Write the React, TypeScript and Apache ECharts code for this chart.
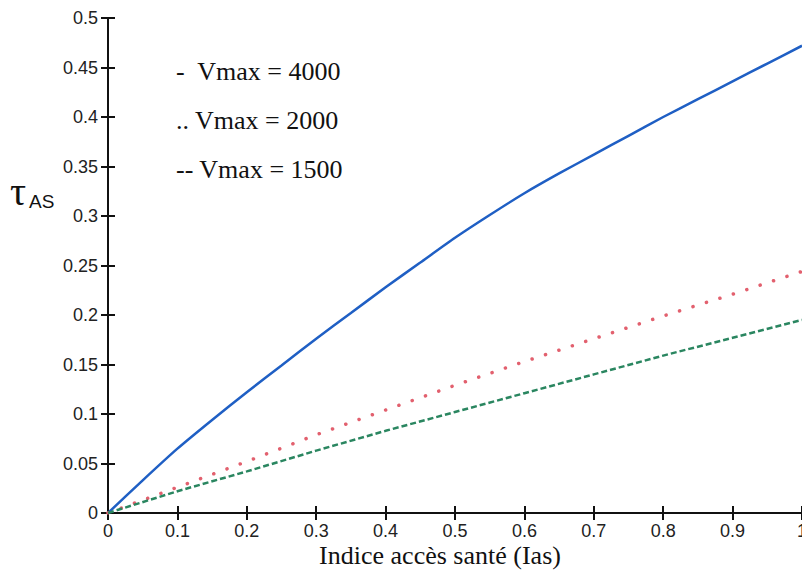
import React, { useEffect, useRef } from "react";
import * as echarts from "echarts";

const xValues = [0, 0.05, 0.1, 0.15, 0.2, 0.25, 0.3, 0.35, 0.4, 0.45, 0.5, 0.55, 0.6, 0.65, 0.7, 0.75, 0.8, 0.85, 0.9, 0.95, 1];
const vmax4000 = [0, 0.033, 0.065, 0.094, 0.122, 0.149, 0.176, 0.202, 0.228, 0.253, 0.278, 0.301, 0.323, 0.343, 0.362, 0.381, 0.4, 0.418, 0.436, 0.454, 0.472];
const xCoarse = [0, 0.1, 0.2, 0.3, 0.4, 0.5, 0.6, 0.7, 0.8, 0.9, 1];
const vmax2000 = [0, 0.026, 0.052, 0.079, 0.104, 0.129, 0.153, 0.176, 0.199, 0.221, 0.244];
const vmax1500 = [0, 0.022, 0.042, 0.063, 0.083, 0.102, 0.121, 0.14, 0.159, 0.177, 0.195];
const legendLabels = ["-  Vmax = 4000", ".. Vmax = 2000", "-- Vmax = 1500"];
const xTitle = "Indice accès santé (Ias)";

const SANS = "'Liberation Sans', Arial, sans-serif";
const SERIF = "'Liberation Serif', 'Times New Roman', serif";

export default function App() {
  const ref = useRef<HTMLDivElement>(null);
  useEffect(() => {
    document.body.style.margin = "0";
    const chart = echarts.init(ref.current!, null, { renderer: "svg" });
    const pair = (xs: number[], ys: number[]) => xs.map((x, i) => [x, ys[i]]);
    const axisLine = { show: true, lineStyle: { color: "#111", width: 2 } };
    const tick = { show: true, inside: true, length: 7, lineStyle: { color: "#111", width: 2 } };
    chart.setOption({
      animation: false,
      backgroundColor: "#fff",
      grid: { left: 108, right: 0, top: 18, bottom: 58, containLabel: false, outerBoundsMode: "none" },
      xAxis: [
        {
          type: "value",
          min: 0,
          max: 1,
          interval: 0.1,
          position: "bottom",
          axisLine,
          axisTick: tick,
          splitLine: { show: false },
          axisLabel: {
            fontFamily: SANS,
            fontSize: 18,
            lineHeight: 18,
            color: "#222",
            margin: 9,
            formatter: (v: number) => String(Math.round(v * 10) / 10),
          },
        },
        {
          type: "value",
          min: 0,
          max: 1,
          interval: 0.1,
          position: "top",
          axisLine,
          axisTick: tick,
          splitLine: { show: false },
          axisLabel: { show: false },
        },
      ],
      yAxis: [
        {
          type: "value",
          min: 0,
          max: 0.5,
          interval: 0.05,
          position: "left",
          axisLine,
          axisTick: tick,
          splitLine: { show: false },
          axisLabel: {
            fontFamily: SANS,
            fontSize: 18,
            color: "#222",
            margin: 10,
            formatter: (v: number) => String(Math.round(v * 100) / 100),
          },
        },
        {
          type: "value",
          min: 0,
          max: 0.5,
          interval: 0.05,
          position: "right",
          axisLine,
          axisTick: tick,
          splitLine: { show: false },
          axisLabel: { show: false },
        },
      ],
      series: [
        {
          type: "line",
          name: "Vmax = 4000",
          data: pair(xValues, vmax4000),
          showSymbol: false,
          smooth: 0.2,
          lineStyle: { color: "#1f5fc4", width: 2.5 },
        },
        {
          type: "line",
          name: "Vmax = 2000",
          data: pair(xCoarse, vmax2000),
          showSymbol: false,
          lineStyle: { color: "#e2606e", width: 3.5, type: [0.1, 14], cap: "round" },
        },
        {
          type: "line",
          name: "Vmax = 1500",
          data: pair(xCoarse, vmax1500),
          showSymbol: false,
          lineStyle: { color: "#2a8660", width: 2.5, type: [6, 3] },
        },
      ],
      graphic: [
        ...legendLabels.map((t, i) => ({
          type: "text",
          left: 176,
          top: 58 + i * 49,
          style: { text: t, font: `26px ${SERIF}`, fill: "#111" },
        })),
        {
          type: "text",
          x: 440,
          y: 555,
          style: { text: xTitle, font: `26px ${SERIF}`, lineHeight: 20, fill: "#111", align: "center", verticalAlign: "middle" },
        },
        {
          type: "text",
          x: 10,
          y: 191,
          style: { text: "τ", font: `40px ${SERIF}`, fill: "#111", verticalAlign: "middle" },
        },
        {
          type: "text",
          x: 29,
          y: 201,
          style: { text: "AS", font: `19px ${SANS}`, fill: "#111", verticalAlign: "middle" },
        },
      ],
    });
    return () => chart.dispose();
  }, []);
  return <div ref={ref} style={{ width: 802, height: 571 }} />;
}
